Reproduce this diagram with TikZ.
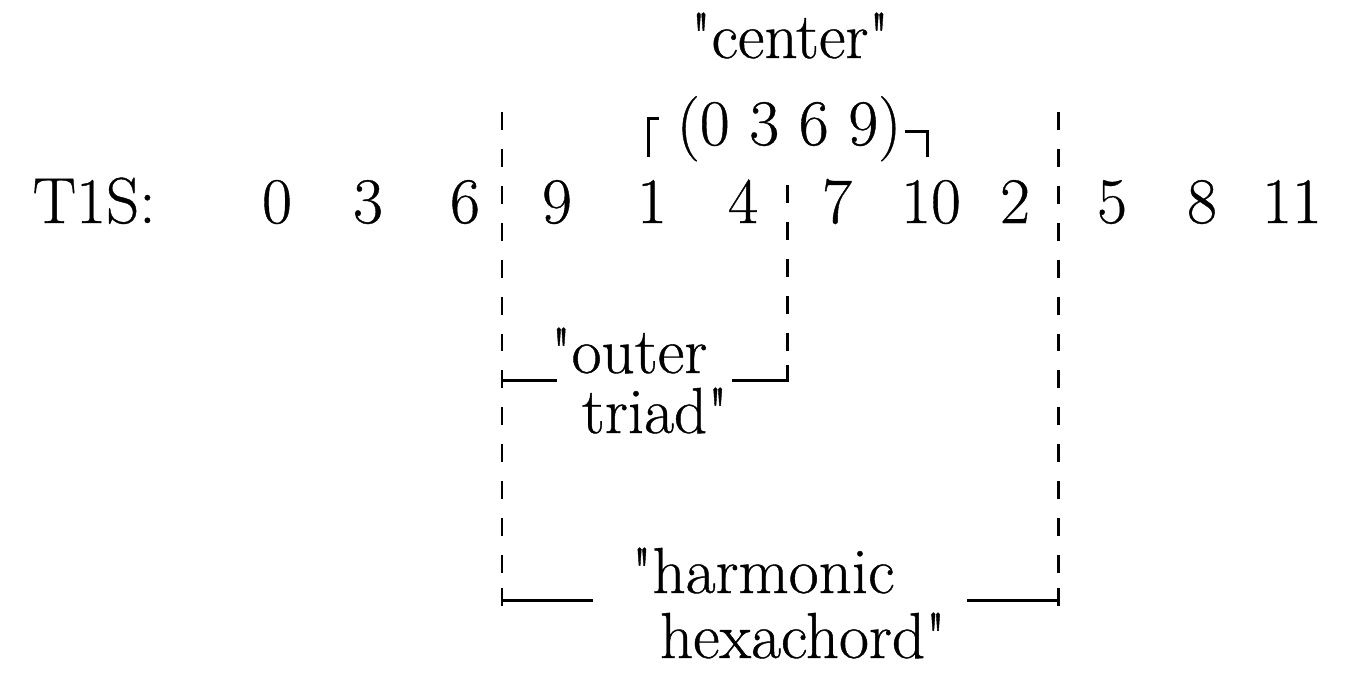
\documentclass[tikz,border=0pt]{standalone}
\usepackage{fontspec}
\setmainfont{Latin Modern Roman}[Ligatures=TeXOff,FakeBold=0.6]

\begin{document}
\begin{tikzpicture}[x=0.01cm,y=-0.01cm,
	pc label/.style={inner sep=0pt,anchor=base,font=\fontsize{18.5}{22}\selectfont},
	guide line/.style={line width=0.85pt,dash pattern=on 5.1pt off 5.4pt},
	bracket/.style={line width=0.85pt}]
  \useasboundingbox (0,0) rectangle (1345,672);

% the row of pitch classes
\node[pc label,anchor=base west] (row) at (32,223) {T1S:};
\foreach \p/\x in {0/277,3/368,6/465,9/557,1/652,4/743,7/837,10/931,2/1015,5/1112,8/1202,11/1292}
  \node[pc label] (p\p) at (\x,223) {\p};

% diminished seventh chord on top
\node[pc label] (center) at (790,58) {"center"};
\node[pc label] (dim) at (789,145) {(0 3 6 9)};
\draw[bracket] (659,118) -| (648,157);
\draw[bracket] (905,131) -| (927,157);

% segment boundaries
\coordinate (hexL) at (502,112);
\coordinate (hexR) at (1058,112);
\coordinate (triR) at (787,185);
\draw[guide line] (hexL) -- (502,588);
\draw[guide line] (hexR) -- (1058,588);
\draw[guide line] (triR) -- (787,365);

% outer triad
\draw[bracket] (502,370) -- (502,386) (502,380) -- (557,380);
\draw[bracket] (787,365) -- (787,380) -- (732,380);
\node[pc label] (outer) at (629,373) {"outer};
\node[pc label] (triad) at (655,433) {triad"};

% harmonic hexachord
\draw[bracket] (502,588) -- (502,606) (502,600) -- (593,600);
\draw[bracket] (1058,588) -- (1058,606) (1058,600) -- (967,600);
\node[pc label] (harm) at (763,593) {"harmonic};
\node[pc label] (hexa) at (803,658) {hexachord"};
\end{tikzpicture}
\end{document}
